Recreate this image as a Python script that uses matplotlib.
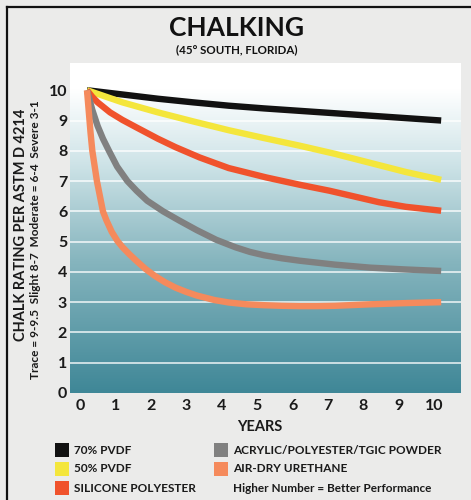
import numpy as np
import matplotlib
matplotlib.use("Agg")
import matplotlib.pyplot as plt
from matplotlib.colors import LinearSegmentedColormap
from matplotlib.lines import Line2D
from matplotlib.patches import Rectangle
from matplotlib.transforms import ScaledTranslation

plt.rcParams['font.family'] = ['Lato', 'DejaVu Sans']

# values (years -> chalk rating)
pvdf70_x = [0, 1, 2, 3, 4, 5, 6, 7, 8, 9, 10]
pvdf70_y = [10, 9.86, 9.72, 9.6, 9.49, 9.4, 9.32, 9.24, 9.16, 9.08, 9.0]

pvdf50_x = [0, 1, 2, 3, 4, 5, 6, 7, 8, 9, 10]
pvdf50_y = [10, 9.6, 9.27, 8.97, 8.68, 8.42, 8.17, 7.9, 7.6, 7.3, 7.04]

silicone_x = [0, 0.15, 0.3, 0.65, 1.0, 1.4, 2.0, 2.5, 3.18, 4.0, 5.06, 6.0, 6.85, 8.25, 9.0, 10]
silicone_y = [10, 9.78, 9.6, 9.27, 9.02, 8.77, 8.4, 8.12, 7.78, 7.43, 7.12, 6.88, 6.68, 6.3, 6.15, 6.02]

acrylic_x = [0, 0.15, 0.3, 0.45, 0.62, 0.85, 1.14, 1.4, 1.7, 2.15, 2.6, 3.1, 3.65, 4.2,
             4.6, 5.0, 5.5, 6.0, 7.0, 8.0, 9.0, 10]
acrylic_y = [10, 9.35, 8.82, 8.4, 8.0, 7.48, 7.0, 6.68, 6.35, 6.0, 5.7, 5.38, 5.06, 4.81,
             4.66, 4.55, 4.45, 4.37, 4.24, 4.14, 4.08, 4.03]

urethane_x = [0, 0.05, 0.1, 0.15, 0.28, 0.45, 0.55, 0.7, 0.86, 1.0, 1.2, 1.4, 1.65, 1.9,
              2.2, 2.5, 2.8, 3.1, 3.6, 4.0, 4.5, 5.0, 5.5, 6.0, 6.5, 7.0, 8.0, 9.0, 10]
urethane_y = [10, 9.3, 8.6, 8.0, 7.0, 6.0, 5.7, 5.32, 5.02, 4.82, 4.58, 4.36, 4.1, 3.88,
              3.66, 3.48, 3.34, 3.22, 3.07, 2.99, 2.93, 2.9, 2.88, 2.87, 2.87, 2.88, 2.93, 2.97, 3.0]

series_names = ["70% PVDF", "50% PVDF", "SILICONE POLYESTER",
                "ACRYLIC/POLYESTER/TGIC POWDER", "AIR-DRY URETHANE"]
series_colors = ["#111111", "#f4e63c", "#f0522c", "#808080", "#f58a5c"]
series_data = [(pvdf70_x, pvdf70_y), (pvdf50_x, pvdf50_y), (silicone_x, silicone_y),
               (acrylic_x, acrylic_y), (urethane_x, urethane_y)]

x_ticks = list(range(0, 11))
y_ticks = list(range(0, 11))

W, H = 471, 500


def fx(px):
    return px / W


def fy(py):
    return 1 - py / H


fig = plt.figure(figsize=(W / 100, H / 100), dpi=100)
fig.patch.set_facecolor("#ebebea")

# frame lines (top and left)
fig.add_artist(Line2D([fx(7), 1], [fy(7), fy(7)], transform=fig.transFigure, color="#111111", lw=1.6))
fig.add_artist(Line2D([fx(7), fx(7)], [fy(7), 0], transform=fig.transFigure, color="#111111", lw=1.6))

ax = fig.add_axes([fx(70), fy(393), fx(461) - fx(70), fy(63) - fy(393)])
xlim = (-0.48, 10.56)
ylim = (0, 10.9)

# vertical background gradient
grad_cmap = LinearSegmentedColormap.from_list(
    "bg", [(0, "#ffffff"), (0.08, "#ffffff"), (0.3, "#cfe4e8"),
           (0.6, "#86b5be"), (1.0, "#3f8797")])
grad = np.linspace(0, 1, 256).reshape(-1, 1)
ax.imshow(grad, cmap=grad_cmap, aspect="auto",
          extent=[xlim[0], xlim[1], ylim[0], ylim[1]], origin="upper", zorder=0)

for yv in range(1, 10):
    ax.axhline(yv, color="white", lw=1.1, alpha=0.9, zorder=1)

for (xs, ys), c in zip(series_data, series_colors):
    ax.plot(xs, ys, color=c, lw=4.6, solid_capstyle="butt", solid_joinstyle="round", zorder=3)

ax.set_xlim(*xlim)
ax.set_ylim(*ylim)
ax.set_xticks(x_ticks)
ax.set_yticks(y_ticks)
ax.tick_params(length=0, labelsize=11.5)
ax.tick_params(axis="y", pad=2)
ax.tick_params(axis="x", pad=4)
for lab in ax.get_xticklabels() + ax.get_yticklabels():
    lab.set_fontweight("bold")
    lab.set_color("#1a1a1a")
offset = ScaledTranslation(-5 / 72, 0, fig.dpi_scale_trans)
for lab in ax.get_xticklabels():
    lab.set_transform(lab.get_transform() + offset)
for s in ax.spines.values():
    s.set_visible(False)

# titles
fig.text(fx(237), fy(28), "CHALKING", ha="center", va="center",
         fontsize=19, fontweight="bold", color="#111111")
fig.text(fx(237), fy(50), "(45° SOUTH, FLORIDA)", ha="center", va="center",
         fontsize=8.3, fontweight="bold", color="#111111")

# axis labels
fig.text(fx(21), fy(225), "CHALK RATING PER ASTM D 4214", rotation=90,
         ha="center", va="center", fontsize=10.5, fontweight="bold", color="#1a1a1a")
fig.text(fx(36), fy(240), "Trace = 9-9.5  Slight 8-7  Moderate = 6-4  Severe 3-1",
         rotation=90, ha="center", va="center", fontsize=8.6, fontweight="bold", color="#1a1a1a")
fig.text(fx(260), fy(427), "YEARS", ha="center", va="center",
         fontsize=10.5, fontweight="bold", color="#1a1a1a")

# legend drawn by hand in two columns
leg_pos = [(55, 450), (55, 469), (55, 488), (214, 450), (214, 469)]
for (px, py), name, c in zip(leg_pos, series_names, series_colors):
    fig.add_artist(Rectangle((fx(px), fy(py + 7)), 14 / W, 14 / H,
                             transform=fig.transFigure, facecolor=c, edgecolor="none"))
    fig.text(fx(px + 19), fy(py), name, ha="left", va="center",
             fontsize=8.5, fontweight="bold", color="#1a1a1a")
fig.text(fx(233), fy(488), "Higher Number = Better Performance", ha="left", va="center",
         fontsize=8.5, fontweight="bold", color="#1a1a1a")

fig.savefig("out.png", dpi=100)
